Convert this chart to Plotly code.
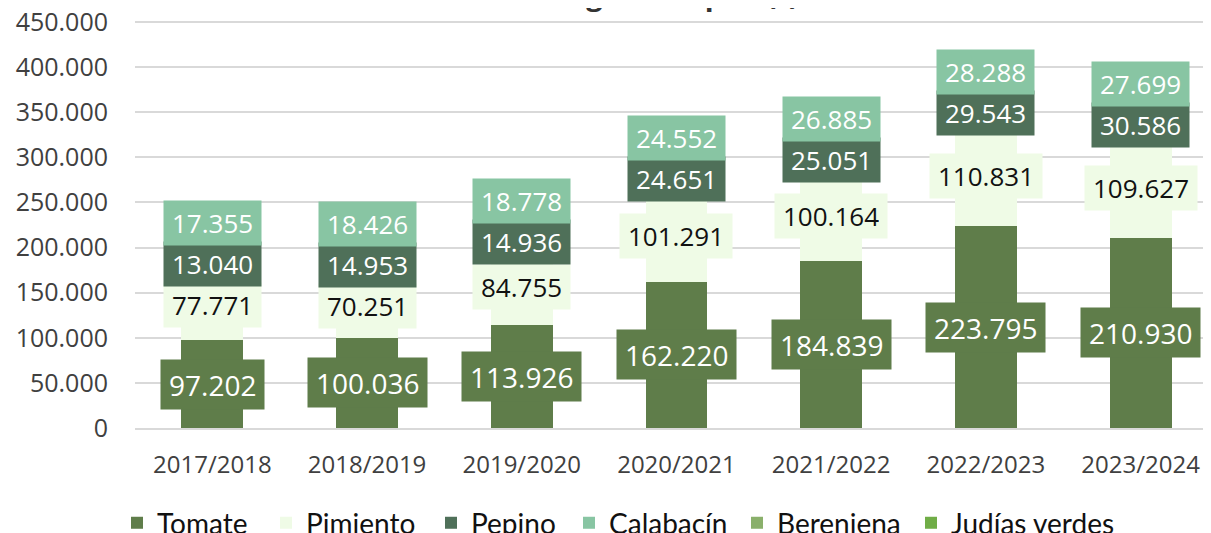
import plotly.graph_objects as go

# Campañas y toneladas importadas por producto
campanas = ["2017/2018", "2018/2019", "2019/2020", "2020/2021",
            "2021/2022", "2022/2023", "2023/2024"]
tomate = [97202, 100036, 113926, 162220, 184839, 223795, 210930]
pimiento = [77771, 70251, 84755, 101291, 100164, 110831, 109627]
pepino = [13040, 14953, 14936, 24651, 25051, 29543, 30586]
calabacin = [17355, 18426, 18778, 24552, 26885, 28288, 27699]
berenjena = [None, None, None, None, None, None, None]
judias_verdes = [None, None, None, None, None, None, None]

titulo = "Invernadero - Origen Turquía (t)"

# name, values, bar colour, label text colour, legend entry width
series = [
    ("Tomate", tomate, "#5F7D4A", "#FFFFFF", 104),
    ("Pimiento", pimiento, "#EFFBE6", "#111111", 120),
    ("Pepino", pepino, "#4F7059", "#FFFFFF", 93),
    ("Calabacín", calabacin, "#88C5A3", "#FFFFFF", 123),
    ("Berenjena", berenjena, "#8AB06B", "#FFFFFF", 129),
    ("Judías verdes", judias_verdes, "#70AD47", "#FFFFFF", 170),
]

# the page body adds an 8px margin, so the margins are trimmed by that much.
# two extra pixels on top so plotly keeps the 450.000 gridline (it drops
# gridlines within 1px of the axis end)
W, H = 1211, 533
M_L, M_R, M_T, M_B = 127, 0, 12, 113
Y_MAX = 450000
plot_h = H - M_T - M_B
per_px = Y_MAX / (plot_h - 2)  # data units per pixel
Y_TOP = Y_MAX + 2 * per_px


def fmt(v):
    return f"{v:,}".replace(",", ".")


fig = go.Figure()
for name, vals, color, _, lw in series:
    fig.add_trace(go.Bar(x=campanas, y=vals, name=name, legendwidth=lw,
                         marker=dict(color=color, line=dict(width=0))))

# data labels with filled boxes, pushed up when they would collide
annotations = []
label_pos = {}
for i, cat in enumerate(campanas):
    base = 0
    prev_center = None
    for name, vals, color, txtcol, _ in series:
        v = vals[i]
        if v is None:
            continue
        center = base + v / 2
        base += v
        if prev_center is not None:
            min_sep = 41 * per_px
            center = max(center, prev_center + min_sep)
        prev_center = center
        label_pos[(name, i)] = center

for name, vals, color, txtcol, _ in series:
    big = name == "Tomate"
    for i, cat in enumerate(campanas):
        if (name, i) not in label_pos:
            continue
        annotations.append(dict(
            x=cat, y=label_pos[(name, i)], xref="x", yref="y",
            text=fmt(vals[i]), showarrow=False, yanchor="middle",
            bgcolor=color, borderpad=8, height=33 if big else 28,
            font=dict(family="Open Sans", size=28 if big else 26, color=txtcol),
        ))

# title, mostly cut off at the top like in the original
annotations.append(dict(
    text="<b>" + titulo + "</b>", xref="paper", yref="paper",
    x=0.400, y=1.0655, xanchor="center", yanchor="middle", showarrow=False,
    font=dict(family="Open Sans", size=29, color="#333333"),
))

fig.update_layout(
    width=W, height=H,
    margin=dict(l=M_L, r=M_R, t=M_T, b=M_B, autoexpand=False),
    barmode="stack", bargap=0.6,
    separators=",.",
    plot_bgcolor="white", paper_bgcolor="white",
    font=dict(family="Open Sans", color="#404040"),
    annotations=annotations,
    showlegend=True,
    legend=dict(orientation="h", x=-0.0166, xanchor="left", y=-0.233, yanchor="middle",
                font=dict(family="Lato", size=28, color="#111111"),
                traceorder="normal", itemwidth=30),
)
fig.update_xaxes(range=[-0.5, 6.507], showgrid=False, showline=True,
                 linecolor="#D9D9D9", linewidth=2, ticks="", automargin=False,
                 tickfont=dict(size=24, color="#404040"), ticklabelstandoff=14)
fig.update_yaxes(range=[0, Y_TOP], dtick=50000, tickformat=",d",
                 showgrid=True, gridcolor="#D9D9D9", gridwidth=1.5,
                 zeroline=False, showline=False, ticks="", automargin=False,
                 ticklabeloverflow="allow",
                 tickfont=dict(size=25, color="#404040"), ticklabelstandoff=26)

fig.write_html("out.html")
